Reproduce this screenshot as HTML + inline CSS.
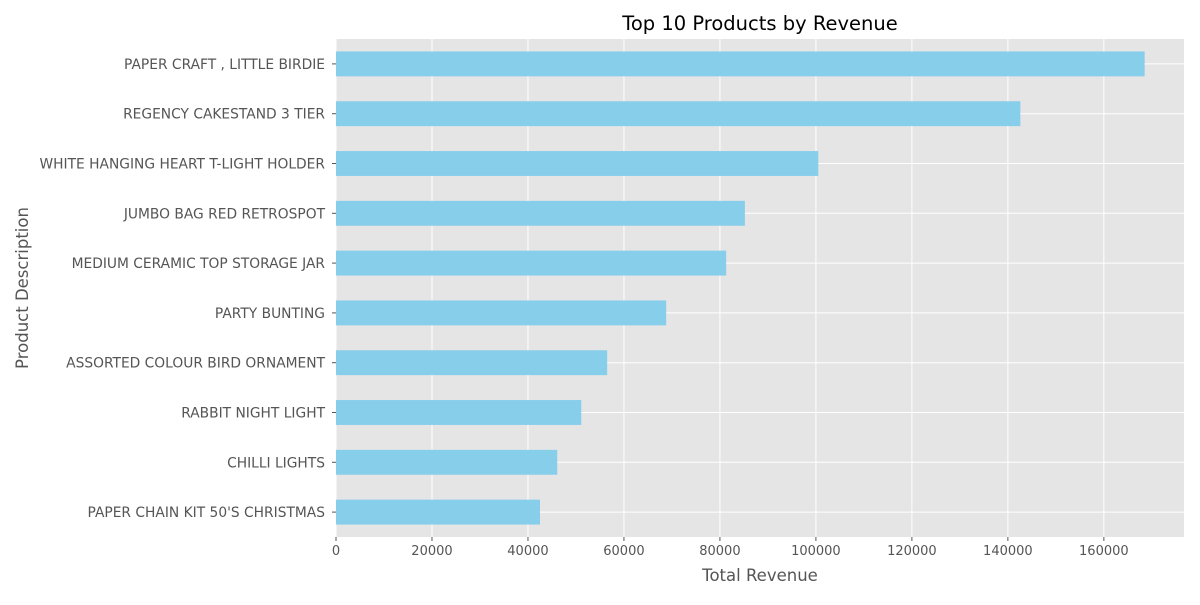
<!DOCTYPE html>
<html><head><meta charset="utf-8"><style>
body{margin:0;background:#fff;font-family:"Liberation Sans","DejaVu Sans",sans-serif;}
svg text{font-family:"DejaVu Sans","Liberation Sans",sans-serif;}
</style></head><body>
<svg id="chart" width="1200" height="600" xmlns="http://www.w3.org/2000/svg">
<rect x="0" y="0" width="1200" height="600" fill="#fff"/>
<rect x="336" y="39" width="848" height="498" fill="#e5e5e5"/>
<g id="grid"></g><g id="bars"></g><g id="xticks"></g><g id="yticks"></g>
<text x="760" y="30" text-anchor="middle" font-size="19.5" fill="#000">Top 10 Products by Revenue</text>
<text x="760" y="581" text-anchor="middle" font-size="16.5" fill="#555">Total Revenue</text>
<text transform="translate(28,288) rotate(-90)" text-anchor="middle" font-size="16.5" fill="#555">Product Description</text>
</svg>
<script>
const categories=["PAPER CRAFT , LITTLE BIRDIE","REGENCY CAKESTAND 3 TIER","WHITE HANGING HEART T-LIGHT HOLDER","JUMBO BAG RED RETROSPOT","MEDIUM CERAMIC TOP STORAGE JAR","PARTY BUNTING","ASSORTED COLOUR BIRD ORNAMENT","RABBIT NIGHT LIGHT","CHILLI LIGHTS","PAPER CHAIN KIT 50'S CHRISTMAS"];
const revenues=[168500,142600,100500,85200,81300,68800,56500,51100,46100,42500];
const xTicks=[0,20000,40000,60000,80000,100000,120000,140000,160000];
const NS="http://www.w3.org/2000/svg";
const L=336,R=1184,T=39,B=537,xMax=176700;
const xs=v=>L+(v/xMax)*(R-L);
const step=(B-T)/categories.length;
const ys=i=>T+step*(i+0.5);
function mk(tag,attrs,parent,txt){const e=document.createElementNS(NS,tag);for(const k in attrs)e.setAttribute(k,attrs[k]);if(txt!==undefined)e.textContent=txt;document.getElementById(parent).appendChild(e);return e;}
xTicks.forEach(t=>{
 const x=xs(t);
 const g=mk('line',{x1:x,x2:x,y1:T,y2:B,stroke:'#fff','stroke-width':1},'grid');
 
 
 const tk=mk('line',{x1:x,x2:x,y1:B,y2:B+4,stroke:'#555'},'xticks');
 
 
 const lb=mk('text',{x:x,y:B+18,'text-anchor':'middle','font-size':13,fill:'#555'},'xticks',String(t));
 
 
});
categories.forEach((c,i)=>{
 const y=ys(i);
 const g=mk('line',{x1:L,x2:R,y1:y,y2:y,stroke:'#fff','stroke-width':1},'grid');
 
 
 const b=mk('rect',{x:L,y:y-step*0.25,width:xs(revenues[i])-L,height:step*0.5,fill:'#87ceeb'},'bars');
 
 
 const tk=mk('line',{x1:L-4,x2:L,y1:y,y2:y,stroke:'#555'},'yticks');
 
 
 const lb=mk('text',{x:L-11,y:y+5,'text-anchor':'end','font-size':13.8,fill:'#555'},'yticks',c);
 
 
});
</script>
</body></html>
